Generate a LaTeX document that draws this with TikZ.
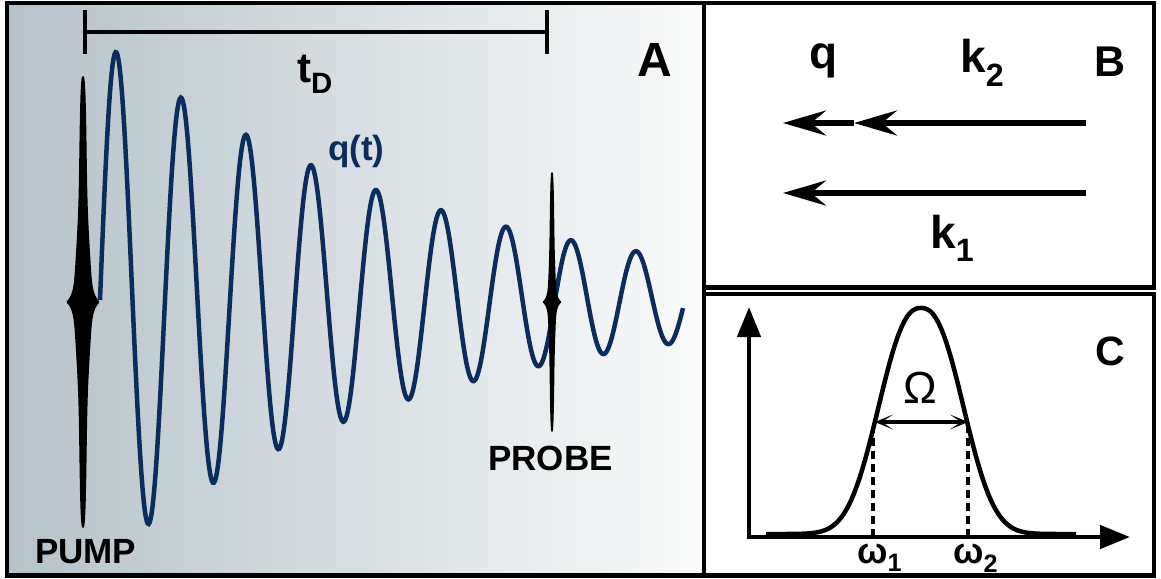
\documentclass[tikz,border=0pt]{standalone}
\usepackage{fontspec}
\setmainfont{Liberation Sans}
\usetikzlibrary{arrows.meta}
\definecolor{wavenavy}{RGB}{12,44,94}
\definecolor{panelgray}{RGB}{181,194,200}
\definecolor{panelwhite}{RGB}{250,251,251}

\begin{document}
\begin{tikzpicture}[x=1pt,y=-1pt,
    frame/.style={line width=4.5pt},
    txt/.style={inner sep=0pt,anchor=base west},
    pulse/.style={fill=black,samples=300},
    vec/.style={line width=5.5pt,-{Stealth[length=43pt,width=25pt,inset=15pt]}},
    axisline/.style={line width=4.5pt,
        {Triangle[length=30pt,width=23pt]}-{Triangle[length=30pt,width=23pt]}},
    guide/.style={line width=4.5pt,dash pattern=on 8pt off 5pt},
    widtharrow/.style={line width=3.5pt,
        {Stealth[length=18pt,width=15pt,inset=11pt]}-{Stealth[length=18pt,width=15pt,inset=11pt]}}]
    \useasboundingbox (0,0) rectangle (1161,578);

    % Panel A: pump, probe and the oscillation q(t).
    \shade[left color=panelgray,right color=panelwhite] (7,3) rectangle (704,575);
    \coordinate (tdstart) at (83,32);
    \coordinate (tdend) at (549,32);
    \draw[line width=4pt,{Bar[width=44pt]}-{Bar[width=44pt]}] (tdstart) -- (tdend);
    \node[txt,font=\fontsize{42}{44}\selectfont\bfseries] (tdlabel) at (297,82)
        {t\textsubscript{D}};
    \node[txt,font=\fontsize{48}{50}\selectfont\bfseries] (tagA) at (637,77) {A};

    \draw[wavenavy,line width=4.5pt,samples=600,domain=100:683]
        plot (\x,{300-260.7*exp(-(\x-100)/320)*sin(5.53846*(\x-100))});
    \node[txt,wavenavy,font=\fontsize{35}{37}\selectfont\bfseries] (qtlabel)
        at (328,160) {q(t)};

    \fill[pulse] plot[domain=-226:226]
        ({83+4.3*max(0.0001,1-(\x/226)*(\x/226))^0.3+4.5*exp(-(\x/70)*(\x/70))+8*exp(-abs(\x)/8)},{302+\x})
        -- plot[domain=226:-226]
        ({83-4.3*max(0.0001,1-(\x/226)*(\x/226))^0.3-4.5*exp(-(\x/70)*(\x/70))-8*exp(-abs(\x)/8)},{302+\x})
        -- cycle;
    \fill[pulse] plot[domain=-130:130]
        ({552+2.6*max(0.0001,1-(\x/130)*(\x/130))^0.3+1.5*exp(-(\x/40)*(\x/40))+5.5*exp(-abs(\x)/5)},{302+\x})
        -- plot[domain=130:-130]
        ({552-2.6*max(0.0001,1-(\x/130)*(\x/130))^0.3-1.5*exp(-(\x/40)*(\x/40))-5.5*exp(-abs(\x)/5)},{302+\x})
        -- cycle;
    \node[txt,font=\fontsize{35}{37}\selectfont\bfseries] (pumplabel) at (35,563) {PUMP};
    \node[txt,font=\fontsize{35}{37}\selectfont\bfseries] (probelabel) at (488,470) {PROBE};

    % Panel B: wave vectors.
    \coordinate (ktwostart) at (1086,123);
    \coordinate (ktwotip) at (854,123);
    \coordinate (qtip) at (783,123);
    \coordinate (konestart) at (1086,193);
    \coordinate (konetip) at (783,193);
    \draw[vec] (ktwostart) -- (ktwotip);
    \draw[vec] (ktwotip) -- (qtip);
    \draw[vec] (konestart) -- (konetip);
    \node[txt,font=\fontsize{46}{48}\selectfont\bfseries] (qlabel) at (809,69) {q};
    \node[txt,font=\fontsize{46}{48}\selectfont\bfseries] (ktwolabel) at (960,73)
        {k\textsubscript{2}};
    \node[txt,font=\fontsize{46}{48}\selectfont\bfseries] (konelabel) at (930,248)
        {k\textsubscript{1}};
    \node[txt,font=\fontsize{43}{45}\selectfont\bfseries] (tagB) at (1094,77) {B};

    % Panel C: spectrum.
    \coordinate (ytip) at (749,307);
    \coordinate (origin) at (749,537);
    \coordinate (xtip) at (1130,537);
    \draw[axisline] (ytip) -- (origin) -- (xtip);
    \draw[line width=4.5pt,samples=200,domain=-155:155]
        plot ({921+\x},{534-226*exp(-((abs(\x)+0.01)/53.5)^2.4)});
    \coordinate (wonebase) at (873,537);
    \coordinate (wonetop) at (873,428);
    \coordinate (wtwobase) at (968,537);
    \coordinate (wtwotop) at (968,428);
    \draw[guide] (wonebase) -- (wonetop);
    \draw[guide] (wtwobase) -- (wtwotop);
    \coordinate (omleft) at (875,422);
    \coordinate (omright) at (968,422);
    \draw[widtharrow] (omleft) -- (omright);
    \node[inner sep=0pt,anchor=base,font=\fontsize{45}{47}\selectfont] (omegalabel)
        at (920,403) {Ω};
    \node[txt,font=\fontsize{36}{38}\selectfont\bfseries] (wonelabel) at (857,563)
        {ω\textsubscript{1}};
    \node[txt,font=\fontsize{36}{38}\selectfont\bfseries] (wtwolabel) at (953,563)
        {ω\textsubscript{2}};
    \node[txt,font=\fontsize{41}{43}\selectfont\bfseries] (tagC) at (1095,365) {C};

    % Frames.
    \draw[frame] (7,3) rectangle (704,575.5);
    \draw[frame] (704,3) rectangle (1154,287.5);
    \draw[frame] (704,294) rectangle (1154,575.5);
\end{tikzpicture}
\end{document}
